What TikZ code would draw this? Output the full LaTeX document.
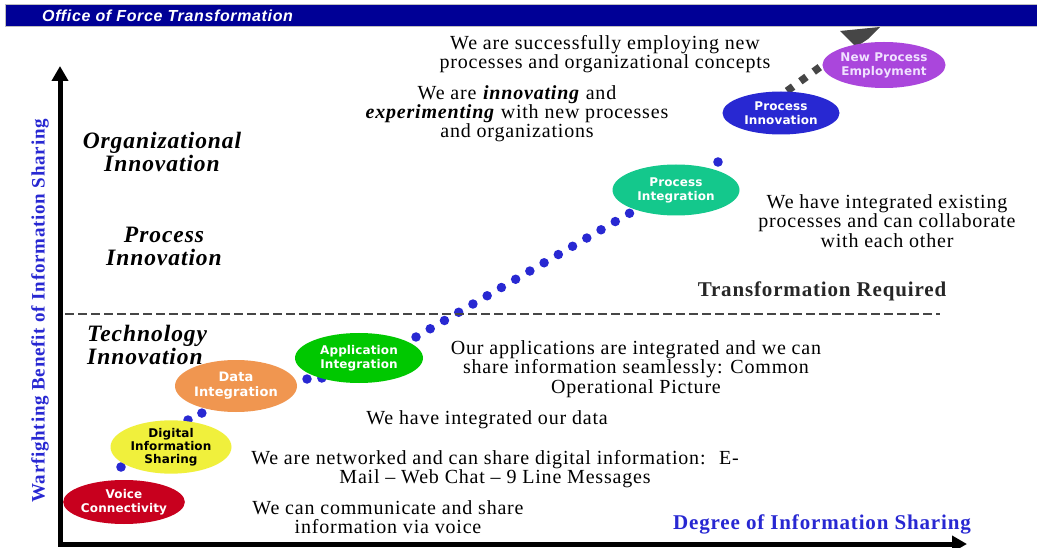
\documentclass[tikz,border=0pt]{standalone}
\usepackage{fontspec}
\setmainfont{Liberation Serif}
\newfontfamily\bodyfont[LetterSpace=4,Ligatures=TeX]{Liberation Serif}
\newfontfamily\lblfont[LetterSpace=1]{DejaVu Sans}
\newfontfamily\banfont[LetterSpace=4]{Liberation Sans}
\usetikzlibrary{shapes.geometric,arrows.meta}
\definecolor{banblue}{RGB}{0,0,150}
\definecolor{dotblue}{RGB}{40,40,210}
\definecolor{sqgray}{RGB}{70,70,70}
\definecolor{cvoice}{RGB}{200,0,30}
\definecolor{cdigital}{RGB}{240,240,60}
\definecolor{cdata}{RGB}{240,150,80}
\definecolor{capp}{RGB}{0,200,0}
\definecolor{cpint}{RGB}{20,200,140}
\definecolor{cpinn}{RGB}{40,40,210}
\definecolor{cnpe}{RGB}{170,70,220}
\definecolor{npetext}{RGB}{240,225,255}
\begin{document}
\begin{tikzpicture}[x=1pt,y=-1pt,
  stage/.style={ellipse, inner sep=0pt, font=\lblfont\bfseries\fontsize{12}{14}\selectfont, text=white, align=center},
  body/.style={font=\bodyfont\fontsize{20}{19.5}\selectfont, align=center, inner sep=0pt},
  level/.style={font=\bodyfont\bfseries\itshape\fontsize{23.5}{23}\selectfont, inner sep=0pt},
  bluedots/.style={draw=dotblue, line width=9.5pt, line cap=round, dash pattern=on 0pt off #1},
  graysq/.style={draw=sqgray, line width=7.5pt, line cap=butt, dash pattern=on 7.5pt off #1},
  axis/.style={line width=5pt, line join=miter, {Triangle[length=15pt,width=16pt]}-{Triangle[length=15pt,width=16pt]}},
  axlabel/.style={font=\bodyfont\bfseries\fontsize{19}{20}\selectfont, text=dotblue, inner sep=0pt}
]
\useasboundingbox (0,0) rectangle (1037,548);
\fill[white] (0,0) rectangle (1037,548);

% dotted path (under the stage ellipses)
\coordinate (d1) at (121,467);
\coordinate (d2a) at (188,420);
\coordinate (d2b) at (202,413);
\coordinate (d3a) at (307,379);
\coordinate (d3b) at (322,378);
\coordinate (d4a) at (416,337);
\coordinate (d4b) at (630,213);
\coordinate (d5) at (718,162);
\coordinate (s6a) at (787,91);
\coordinate (s6b) at (820,67);
\fill[dotblue] (d1) circle (4.8);
\draw[bluedots=15.5pt] (d2a) -- (d2b);
\draw[bluedots=14.9pt] (d3a) -- (d3b);
\draw[bluedots=16.45pt] (d4a) -- (d4b);
\fill[dotblue] (d5) circle (4.8);
\draw[graysq=9pt] (s6a) -- (s6b);
\fill[sqgray] (840,31) -- (880,27) -- (868,39) -- (856,47) -- cycle;

% stages
\node[stage, fill=cvoice, minimum width=118, minimum height=44] (vc) at (124,502) {Voice\\Connectivity};
\node[stage, fill=cdigital, text=black, minimum width=121, minimum height=52, font=\lblfont\bfseries\fontsize{12}{13}\selectfont] (dis) at (171,447) {Digital\\Information\\Sharing};
\node[stage, fill=cdata, minimum width=122, minimum height=52, font=\lblfont\bfseries\fontsize{13}{15}\selectfont] (di) at (236,386) {Data\\Integration};
\node[stage, fill=capp, minimum width=128, minimum height=50] (ai) at (359,358) {Application\\Integration};
\node[stage, fill=cpint, minimum width=127, minimum height=51] (pint) at (676,190) {Process\\Integration};
\node[stage, fill=cpinn, minimum width=117, minimum height=43] (pinn) at (781,113) {Process\\Innovation};
\node[stage, fill=cnpe, text=npetext, minimum width=118, minimum height=46] (npe) at (884,65) {New Process\\Employment};

% axes
\coordinate (origin) at (60,544);
\coordinate (ytop) at (60,66);
\coordinate (xend) at (967,544);
\draw[axis] (ytop) -- (origin) -- (xend);
\node[axlabel, rotate=90] (ylab) at (40,311) {Warfighting Benefit of Information Sharing};
\node[axlabel, font=\bodyfont\bfseries\fontsize{21}{21}\selectfont] (xlab) at (822,524) {Degree of Information Sharing};

% transformation threshold
\coordinate (dl) at (65,314);
\coordinate (dr) at (940,314);
\draw[sqgray, line width=2.5pt, dash pattern=on 9pt off 4pt] (dl) -- (dr);
\node[font=\bodyfont\bfseries\fontsize{21}{21}\selectfont, text=black!85, inner sep=0pt] (treq) at (822,291) {Transformation Required};

% levels
\node[level, align=center] (org) at (162,152) {Organizational\\Innovation};
\node[level, align=center] (proc) at (164,246) {Process\\Innovation};
\node[level, align=left, anchor=west] (tech) at (87,345) {Technology\\Innovation};

% descriptions
\node[body] (t1) at (605,54) {We are successfully employing new\\processes and organizational concepts};
\node[body, font=\bodyfont\fontsize{20}{17}\selectfont] (t2) at (517,114) {We are \textbf{\textit{innovating}} and\\\textbf{\textit{experimenting}}  with new processes\\and organizations};
\node[body] (t3) at (887,221) {We have integrated existing\\processes and can collaborate\\with each other};
\node[body] (t5) at (636,369) {Our applications are integrated and we can\\share information seamlessly: Common\\Operational Picture};
\node[body] (t6) at (487,420) {We have integrated our data};
\node[body] (t7) at (495,469) {We are networked and can share digital information:~ E-\\Mail – Web Chat – 9 Line Messages};
\node[body] (t8) at (388,517) {We can communicate and share\\information via voice};

% banner
\fill[banblue, draw=black!25, line width=1pt] (5,5) rectangle (1040,27);
\node[font=\banfont\bfseries\itshape\fontsize{16}{16}\selectfont, text=white, anchor=west, inner sep=0pt] (ban) at (42,16) {Office of Force Transformation};
\end{tikzpicture}
\end{document}
